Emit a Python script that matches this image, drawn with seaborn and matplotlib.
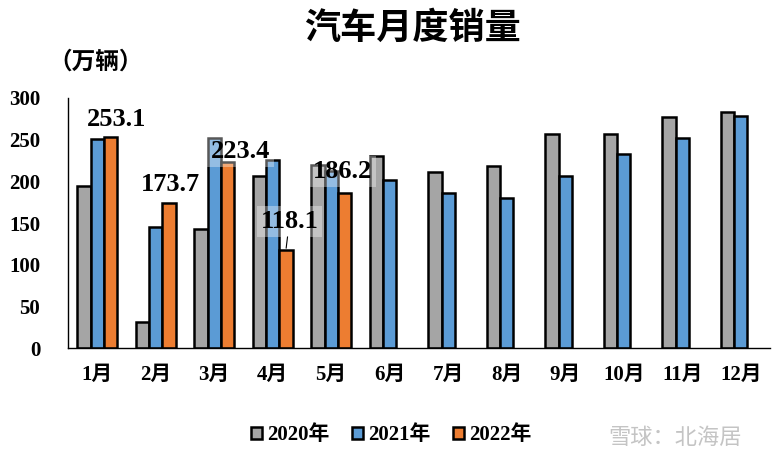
import matplotlib
matplotlib.use("Agg")
import matplotlib.pyplot as plt
import seaborn as sns
import pandas as pd
import numpy as np

months = ["1月", "2月", "3月", "4月", "5月", "6月", "7月", "8月", "9月", "10月", "11月", "12月"]
sales_2020 = [194.1, 31.0, 143.0, 207.0, 219.4, 230.0, 211.2, 218.6, 256.5, 257.3, 276.6, 283.1]
sales_2021 = [250.3, 145.5, 252.6, 225.2, 212.8, 201.2, 186.4, 180.0, 207.0, 233.1, 252.2, 278.6]
sales_2022 = [253.1, 173.7, 223.4, 118.1, 186.2, np.nan, np.nan, np.nan, np.nan, np.nan, np.nan, np.nan]
series = ["2020年", "2021年", "2022年"]
colors = ["#A5A5A5", "#5B9BD5", "#ED7D31"]
yticks = [0, 50, 100, 150, 200, 250, 300]

sns.set_theme(style="white")
FAM = ["Liberation Serif", "Noto Sans CJK SC", "DejaVu Sans"]
CJK = ["Noto Sans CJK SC", "DejaVu Sans"]
plt.rcParams["font.family"] = FAM
plt.rcParams["text.color"] = "black"
plt.rcParams["xtick.color"] = "black"
plt.rcParams["ytick.color"] = "black"
plt.rcParams["axes.labelcolor"] = "black"

rows = []
for s, vals in zip(series, [sales_2020, sales_2021, sales_2022]):
    for m, v in zip(months, vals):
        rows.append({"月份": m, "年份": s, "销量": v})
df = pd.DataFrame(rows)

fig = plt.figure(figsize=(7.75, 4.68), dpi=100)
ax = fig.add_axes([0.0877, 0.2564, 0.9058, 0.5342])

sns.barplot(data=df, x="月份", y="销量", hue="年份", order=months, hue_order=series,
            palette=colors, width=0.68, gap=0, edgecolor="black", linewidth=1.8,
            saturation=1, errorbar=None, ax=ax, legend=True)

ax.set_ylim(0, 300)
ax.set_xlim(-0.5, 11.5)
ax.set_yticks(yticks)
ax.set_yticklabels([str(t) for t in yticks], fontsize=15, fontweight="bold")
ax.set_xticks(range(len(months)))
ax.set_xticklabels(months, fontsize=15, fontweight="bold")
ax.tick_params(axis="y", length=0, pad=20)
ax.tick_params(axis="x", length=0, pad=12)
ax.set_xlabel("")
ax.set_ylabel("")
for sp in ["top", "right"]:
    ax.spines[sp].set_visible(False)
for sp in ["left", "bottom"]:
    ax.spines[sp].set_color("black")
    ax.spines[sp].set_linewidth(1.0)
ax.grid(False)

# annotations for 2022
off = 0.68 / 3
label_offsets = [(4.5, 12.5), (0.8, 13.5), (9.5, 7.5), (2.5, 20.5), (-1.2, 15.5)]
for i, (v, (dx, dy)) in enumerate(zip(sales_2022[:5], label_offsets)):
    kw = dict(xy=(i + off, v), xytext=(dx, dy), textcoords="offset points",
              ha="center", va="center", fontsize=19, fontweight="bold",
              bbox=dict(boxstyle="square,pad=0.15", facecolor="white", edgecolor="none", alpha=0.35))
    if i == 3:
        kw["arrowprops"] = dict(arrowstyle="-", color="black", lw=0.8, shrinkA=0, shrinkB=1)
    ax.annotate(f"{v:.1f}", **kw)

leg = ax.get_legend()
handles = leg.legend_handles
leg.remove()
fig.legend(handles, series, loc="center", bbox_to_anchor=(0.505, 0.07), ncol=3, frameon=False,
           prop={"family": FAM, "weight": "bold", "size": 15},
           handlelength=0.5, handleheight=0.5, handletextpad=0.25, columnspacing=1.1)
for h in handles:
    h.set_edgecolor("black")
    h.set_linewidth(1.2)

fig.text(0.532, 0.94, "汽车月度销量", ha="center", va="center", fontsize=26, fontweight="heavy",
         family=CJK)
fig.text(0.062, 0.868, "（万辆）", ha="left", va="center", fontsize=17, fontweight="bold",
         family=CJK)
fig.text(0.957, 0.065, "雪球：北海居", ha="right", va="center", fontsize=16, color="#C4C4C4",
         family=CJK)

fig.savefig("out.png", dpi=100)
